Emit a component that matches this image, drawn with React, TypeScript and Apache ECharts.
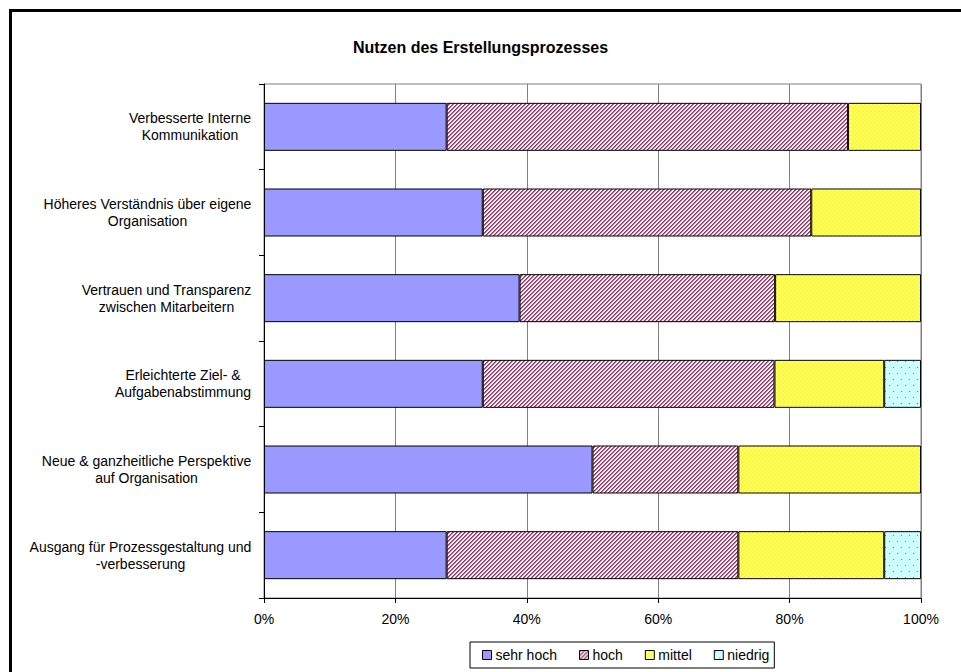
import React, { useEffect, useRef } from "react";
import * as echarts from "echarts";

const categories = [
  "Verbesserte Interne\nKommunikation",
  "Höheres Verständnis über eigene\nOrganisation",
  "Vertrauen und Transparenz\nzwischen Mitarbeitern",
  "Erleichterte Ziel- &\nAufgabenabstimmung",
  "Neue & ganzheitliche Perspektive\nauf Organisation",
  "Ausgang für Prozessgestaltung und\n-verbesserung",
];
const sehrHoch = [27.8, 33.3, 38.9, 33.3, 50.0, 27.8];
const hoch = [61.1, 50.0, 38.9, 44.4, 22.2, 44.4];
const mittel = [11.1, 16.7, 22.2, 16.7, 27.8, 22.2];
const niedrig = [0, 0, 0, 5.6, 0, 5.6];
const seriesNames = ["sehr hoch", "hoch", "mittel", "niedrig"];
const xTicks = [0, 20, 40, 60, 80, 100];

const FONT = "'Liberation Sans', Arial, sans-serif";

function makeStripe(cols: string[]) {
  const n = cols.length;
  const c = document.createElement("canvas");
  c.width = n * 2;
  c.height = n * 2;
  const ctx = c.getContext("2d")!;
  for (let x = 0; x < n * 2; x++) {
    for (let y = 0; y < n * 2; y++) {
      ctx.fillStyle = cols[(x + y) % n];
      ctx.fillRect(x, y, 1, 1);
    }
  }
  return c;
}

function makeDots() {
  const c = document.createElement("canvas");
  c.width = 8;
  c.height = 12;
  const ctx = c.getContext("2d")!;
  ctx.fillStyle = "#ccffff";
  ctx.fillRect(0, 0, 8, 12);
  ctx.fillStyle = "#339980";
  ctx.fillRect(1, 1, 1, 1);
  ctx.fillRect(5, 7, 1, 1);
  return c;
}

export default function App() {
  const ref = useRef<HTMLDivElement>(null);
  useEffect(() => {
    document.body.style.margin = "0";
    document.body.style.overflow = "hidden";
    document.documentElement.style.overflow = "hidden";
    if (!ref.current) return;
    const chart = echarts.init(ref.current, undefined, { renderer: "svg" });

    const mc = document.createElement("canvas").getContext("2d")!;
    mc.font = "14px 'Liberation Sans'";
    const widths = categories.map((c) =>
      Math.ceil(Math.max(...c.split("\n").map((l) => mc.measureText(l).width))) + 1
    );
    const rich: any = {};
    widths.forEach((w, i) => {
      rich["c" + i] = {
        width: w,
        align: "center",
        fontSize: 14,
        lineHeight: 17,
        color: "#000",
        fontFamily: FONT,
      };
    });

    const colors: any[] = [
      "#9999ff",
      {
        image: makeStripe(["#993366", "#b06a8d", "#ffffff", "#f4e6ee"]),
        repeat: "repeat",
      },
      {
        image: makeStripe(["#ffff00", "#ffff00", "#ffff99", "#ffffff"]),
        repeat: "repeat",
      },
      { image: makeDots(), repeat: "repeat" },
    ];
    const datasets = [sehrHoch, hoch, mittel, niedrig];

    chart.setOption({
      animation: false,
      textStyle: { fontFamily: FONT },
      title: {
        text: "Nutzen des Erstellungsprozesses",
        left: "center",
        top: 39,
        padding: 0,
        textStyle: { fontSize: 16, fontWeight: "bold", color: "#000", fontFamily: FONT },
      },
      grid: {
        left: 264,
        right: 40,
        top: 84,
        bottom: 74,
        show: true,
        borderColor: "#808080",
        borderWidth: 1,
      },
      legend: {
        data: seriesNames,
        icon: "rect",
        left: 470,
        top: 642,
        itemWidth: 9,
        itemHeight: 9,
        itemGap: 22,
        padding: [6, 5, 6, 12],
        borderColor: "#000",
        borderWidth: 1,
        textStyle: { fontSize: 14, color: "#000", fontFamily: FONT, padding: [0, 0, 0, -1] },
        itemStyle: { borderColor: "#000", borderWidth: 1 },
      },
      xAxis: {
        type: "value",
        min: 0,
        max: 100,
        interval: 20,
        axisLine: { show: true, lineStyle: { color: "#000", width: 1 } },
        axisTick: { show: true, length: 5, lineStyle: { color: "#000" } },
        axisLabel: {
          formatter: (v: number) => (xTicks.includes(v) ? v + "%" : ""),
          fontSize: 14,
          color: "#000",
          margin: 14,
          fontFamily: FONT,
        },
        splitLine: { show: true, lineStyle: { color: "#808080", width: 1 } },
      },
      yAxis: {
        type: "category",
        data: categories,
        inverse: true,
        axisLine: { show: true, lineStyle: { color: "#000", width: 1 } },
        axisTick: { show: true, length: 5, lineStyle: { color: "#000" } },
        axisLabel: {
          margin: 12,
          align: "right",
          formatter: (v: string, i: number) =>
            v.split("\n").map((l) => `{c${i}|${l}}`).join("\n"),
          rich,
        },
        splitLine: { show: false },
      },
      series: datasets.map((d, si) => ({
        name: seriesNames[si],
        type: "bar",
        stack: "total",
        barWidth: 48,
        data: d.map((v) => (v === 0 ? null : v)),
        itemStyle: { color: colors[si], borderColor: "#000", borderWidth: 1 },
        emphasis: { disabled: true },
      })),
      graphic: [
        {
          type: "line",
          shape: { x1: 9, y1: 10.5, x2: 1000, y2: 10.5 },
          style: { stroke: "#000", lineWidth: 3 },
          silent: true,
        },
        {
          type: "line",
          shape: { x1: 10.5, y1: 9, x2: 10.5, y2: 700 },
          style: { stroke: "#000", lineWidth: 3 },
          silent: true,
        },
      ],
    });
    return () => chart.dispose();
  }, []);
  return (
    <div
      ref={ref}
      style={{ position: "absolute", left: 0, top: 0, width: 961, height: 672, overflow: "hidden" }}
    />
  );
}
